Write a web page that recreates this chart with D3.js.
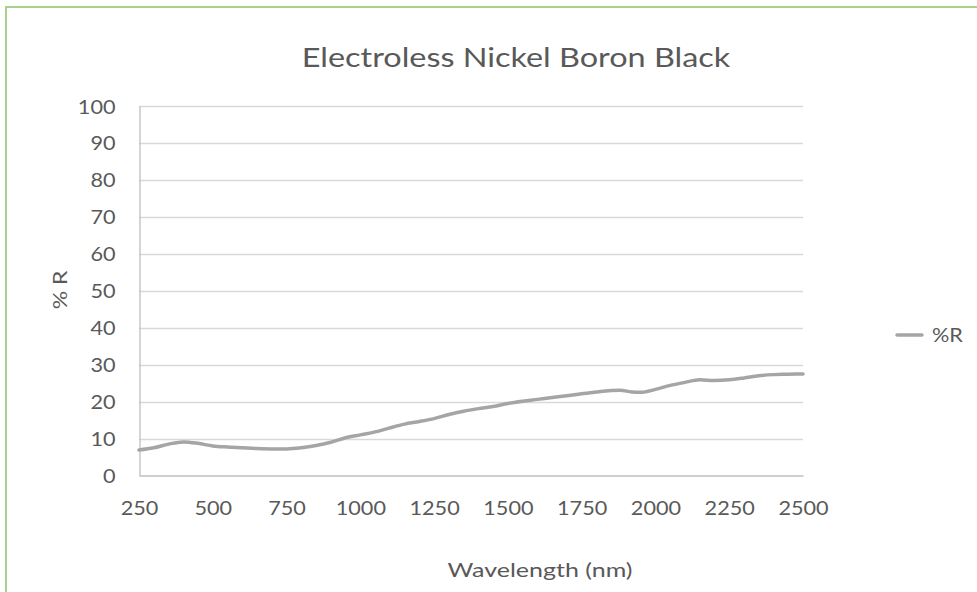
<!DOCTYPE html>
<html>
<head>
<meta charset="utf-8">
<script src="https://cdn.jsdelivr.net/npm/d3@7"></script>
<style>
  html, body { margin: 0; padding: 0; background: #fff; }
  svg { display: block; }
  text { font-family: Lato, "Open Sans", sans-serif; fill: #595959; }
</style>
</head>
<body>
<svg id="chart" width="977" height="592"></svg>
<script>
// Reflectance spectrum, wavelength in nm vs %R
const wavelengths = [250, 300, 350, 400, 450, 500, 550, 600, 650, 700, 750, 800, 850, 900, 950,
  1000, 1050, 1100, 1150, 1200, 1250, 1300, 1350, 1400, 1450, 1500, 1550, 1600, 1650, 1700,
  1750, 1800, 1850, 1880, 1920, 1950, 2000, 2050, 2100, 2150, 2200, 2250, 2300, 2350, 2400,
  2450, 2500];
const reflectance = [6.9, 7.5, 8.5, 9.1, 8.7, 8.0, 7.7, 7.5, 7.3, 7.2, 7.2, 7.5, 8.1, 9.0, 10.2,
  11.0, 11.8, 12.9, 13.9, 14.6, 15.4, 16.5, 17.4, 18.1, 18.7, 19.5, 20.1, 20.6, 21.1, 21.6,
  22.1, 22.6, 23.0, 23.1, 22.6, 22.5, 23.3, 24.4, 25.2, 25.9, 25.7, 25.9, 26.4, 27.0, 27.3,
  27.4, 27.5];
const xTicks = [250, 500, 750, 1000, 1250, 1500, 1750, 2000, 2250, 2500];
const yTicks = [0, 10, 20, 30, 40, 50, 60, 70, 80, 90, 100];
const seriesName = "%R";
const chartTitle = "Electroless Nickel Boron Black";
const xTitle = "Wavelength (nm)";
const yTitle = "% R";

const svg = d3.select("#chart");

// outer chart frame (extends past the bottom/right of the view)
svg.append("rect")
  .attr("x", 6).attr("y", 7)
  .attr("width", 1000).attr("height", 620)
  .attr("fill", "none")
  .attr("stroke", "#a9d18e")
  .attr("stroke-width", 2);

const plot = { left: 139, right: 803, top: 106, bottom: 475.5 };

const x = d3.scaleLinear().domain([250, 2500]).range([plot.left, plot.right]);
const y = d3.scaleLinear().domain([0, 100]).range([plot.bottom, plot.top]);

// text is drawn slightly widened horizontally
const STRETCH = 1.14;
const fmt = d3.format("d");

// horizontal gridlines
svg.append("g")
  .selectAll("line")
  .data(yTicks.filter(d => d > 0))
  .join("line")
  .attr("x1", plot.left).attr("x2", plot.right)
  .attr("y1", d => Math.round(y(d)) + 0.5).attr("y2", d => Math.round(y(d)) + 0.5)
  .attr("stroke", "#d9d9d9")
  .attr("stroke-width", 1.3);

// y axis
const yAxis = svg.append("g")
  .attr("transform", `translate(${plot.left + 0.5},0)`)
  .call(d3.axisLeft(y).tickValues(yTicks).tickFormat(fmt).tickSize(0).tickPadding(0));
yAxis.select(".domain").attr("stroke", "#bfbfbf").attr("stroke-width", 1.3);
yAxis.selectAll(".tick text")
  .attr("x", null).attr("dy", null)
  .attr("transform", `translate(-24,7) scale(${STRETCH},1)`)
  .attr("font-size", 19).attr("fill", "#595959")
  .style("font-family", "Lato, 'Open Sans', sans-serif");

// x axis
const xAxis = svg.append("g")
  .attr("transform", `translate(0,${plot.bottom})`)
  .call(d3.axisBottom(x).tickValues(xTicks).tickFormat(fmt).tickSize(0).tickPadding(0));
xAxis.select(".domain").attr("stroke", "#bfbfbf").attr("stroke-width", 1.3);
xAxis.selectAll(".tick text")
  .attr("y", null).attr("dy", null)
  .attr("transform", `translate(0,39) scale(${STRETCH},1)`)
  .attr("font-size", 19).attr("fill", "#595959")
  .style("font-family", "Lato, 'Open Sans', sans-serif");

// spectrum line
const line = d3.line()
  .x((d, i) => x(wavelengths[i]))
  .y(d => y(d))
  .curve(d3.curveMonotoneX);

svg.append("path")
  .datum(reflectance)
  .attr("d", line)
  .attr("fill", "none")
  .attr("stroke", "#a5a5a5")
  .attr("stroke-width", 3.5)
  .attr("stroke-linecap", "round")
  .attr("stroke-linejoin", "round");

// title
svg.append("text")
  .attr("transform", `translate(516,67) scale(1.2,1)`)
  .attr("text-anchor", "middle")
  .attr("font-size", 27)
  .text(chartTitle);

// axis titles
svg.append("text")
  .attr("transform", `translate(540,577) scale(1.25,1)`)
  .attr("text-anchor", "middle")
  .attr("font-size", 20)
  .text(xTitle);

svg.append("text")
  .attr("transform", "translate(67,290) rotate(-90) scale(1.15,1)")
  .attr("text-anchor", "middle")
  .attr("font-size", 20)
  .text(yTitle);

// legend
const legend = svg.append("g");
legend.append("line")
  .attr("x1", 897).attr("x2", 922)
  .attr("y1", 335).attr("y2", 335)
  .attr("stroke", "#a5a5a5")
  .attr("stroke-width", 3.5)
  .attr("stroke-linecap", "round");
legend.append("text")
  .attr("transform", `translate(932,342) scale(${STRETCH},1)`)
  .attr("font-size", 19)
  .text(seriesName);
</script>
</body>
</html>
